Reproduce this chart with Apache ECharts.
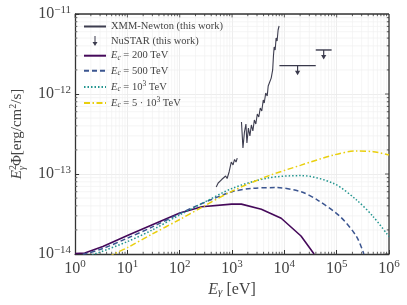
<!DOCTYPE html>
<html><head><meta charset="utf-8">
<script src="https://cdn.jsdelivr.net/npm/echarts@6/dist/echarts.min.js"></script>
<style>html,body{margin:0;padding:0;background:#fff}#c{width:407px;height:305px}</style>
</head><body><div id="c"></div>
<script>
// XMM-Newton spectrum (null = gap)
const xmmEnergy = [498,543,580,633,676,754,805,878,937,966,1045,1116,1192,1256,
  1380,
  1514,1616,1726,1842,1924,2054,2193,2341,2500,2668,2847,3040,3245,3465,3699,3948,4123,4402,4699,4909,5243,5598,5975,6184,6379,6665,6955,7265,7590,7925];
const xmmFlux = [6.88e-14,7.72e-14,7.39e-14,8.53e-14,8.18e-14,9.44e-14,8.79e-14,1.06e-13,1.12e-13,1.41e-13,1.30e-13,1.52e-13,1.41e-13,1.58e-13,
  null,
  4.47e-13,2.11e-13,3.35e-13,4.22e-13,2.44e-13,3.76e-13,2.99e-13,4.10e-13,3.45e-13,4.73e-13,4.22e-13,5.62e-13,5.16e-13,6.68e-13,6.13e-13,8.41e-13,7.72e-13,1.03e-12,9.44e-13,1.26e-12,1.19e-12,1.58e-12,2.0e-12,2.99e-12,3.87e-12,3.55e-12,5.01e-12,4.60e-12,6.31e-12,7.08e-12];
// NuSTAR upper limits
const nustarLo = [8040, 39800];
const nustarHi = [39800, 80000];
const nustarUL = [2.26e-12, 3.55e-12];
// Models
const ec200E = [1, 1.53, 3.39, 10, 30, 100, 265, 980, 1510, 3630, 8700, 20800, 37000];
const ec200F = [1.01e-14, 1.03e-14, 1.24e-14, 1.7e-14, 2.32e-14, 3.25e-14, 3.9e-14, 4.2e-14, 4.2e-14, 3.63e-14, 2.8e-14, 1.68e-14, 1.0e-14];
const ec500E = [1, 1.53, 3.39, 10, 30, 100, 265, 1000, 2340, 7000, 20800, 43000, 117000, 240000, 330000];
const ec500F = [0.92e-14, 1.0e-14, 1.17e-14, 1.58e-14, 2.18e-14, 3.2e-14, 4.27e-14, 6.0e-14, 6.6e-14, 6.76e-14, 6.0e-14, 4.73e-14, 2.93e-14, 1.65e-14, 1.0e-14];
const ec1000E = [1, 2.36, 10, 30, 100, 265, 1000, 4800, 20800, 88000, 240000, 500000, 1000000];
const ec1000F = [0.85e-14, 1.0e-14, 1.43e-14, 2.0e-14, 3.08e-14, 4.27e-14, 6.6e-14, 8.9e-14, 9.55e-14, 7.6e-14, 4.73e-14, 2.93e-14, 1.65e-14];
const ec5000E = [1, 5.6, 10, 30, 100, 265, 1000, 4800, 20800, 88000, 240000, 500000, 1000000];
const ec5000F = [0.55e-14, 1.0e-14, 1.2e-14, 1.78e-14, 2.7e-14, 3.84e-14, 6.1e-14, 9.4e-14, 1.29e-13, 1.73e-13, 1.94e-13, 1.9e-13, 1.73e-13];
const seriesNames = ['XMM-Newton (this work)', 'NuSTAR (this work)', 'Ec200', 'Ec500', 'Ec1000', 'Ec5000'];

const FONT = 'Liberation Serif';
const TXT = '#444';
const AX = '#333';
const zip = (a, b) => a.map((v, i) => [v, b[i] === null ? '-' : b[i]]);

const legendLabels = {
  'XMM-Newton (this work)': '{n|XMM-Newton (this work)}',
  'NuSTAR (this work)': '{n|NuSTAR (this work)}',
  'Ec200': '{i|E}{sb|c}{n| = 200 TeV}',
  'Ec500': '{i|E}{sb|c}{n| = 500 TeV}',
  'Ec1000': '{i|E}{sb|c}{n| = 10}{sp|3}{n| TeV}',
  'Ec5000': '{i|E}{sb|c}{n| = 5 · 10}{sp|3}{n| TeV}'
};

function expLabel(v) {
  const e = Math.round(Math.log10(v));
  return '{b|10}{s|' + (e < 0 ? '\u2212' + (-e) : e) + '}';
}

const chart = echarts.init(document.getElementById('c'), null, {renderer: 'canvas'});
const hideSym = {opacity: 0};
const option = {
  animation: false,
  backgroundColor: '#fff',
  grid: {left: 72, right: 18, top: 14, bottom: 51},
  legend: {
    orient: 'vertical', left: 78, top: 16, itemWidth: 22, itemHeight: 10, itemGap: 3.6,
    itemStyle: hideSym,
    data: [
      {name: seriesNames[0]},
      {name: seriesNames[1], icon: 'path://M2,0 L3,0 L3,6 L5,6 L2.5,10 L0,6 L2,6 Z', itemStyle: {opacity: 1}},
      {name: seriesNames[2]}, {name: seriesNames[3]}, {name: seriesNames[4]}, {name: seriesNames[5]}
    ],
    formatter: n => legendLabels[n],
    textStyle: {
      fontFamily: FONT, color: TXT, fontSize: 10.5,
      rich: {
        n: {fontFamily: FONT, color: TXT, fontSize: 10.5},
        i: {fontFamily: FONT, color: TXT, fontSize: 10.5, fontStyle: 'italic'},
        sb: {fontFamily: FONT, color: TXT, fontSize: 7.5, fontStyle: 'italic', padding: [4, 0, 0, 0]},
        sp: {fontFamily: FONT, color: TXT, fontSize: 7.5, padding: [0, 0, 5, 0]}
      }
    }
  },
  xAxis: {
    type: 'log', logBase: 10, min: 1, max: 1e6,
    name: '{i|E}{sb|γ}{n| [eV]}', nameLocation: 'middle', nameGap: 27,
    nameTextStyle: {
      rich: {
        n: {fontFamily: FONT, color: TXT, fontSize: 16},
        i: {fontFamily: FONT, color: TXT, fontSize: 16, fontStyle: 'italic'},
        sb: {fontFamily: FONT, color: TXT, fontSize: 11, fontStyle: 'italic', padding: [6, 0, 0, 0]}
      }
    },
    axisLine: {show: true, onZero: false, lineStyle: {color: AX, width: 1.3}},
    axisTick: {show: true, inside: true, length: 4, lineStyle: {color: AX, width: 1}},
    splitLine: {show: true, lineStyle: {color: '#e8e8e8', width: 0.8}},
    axisLabel: {
      formatter: expLabel, margin: 5,
      rich: {
        b: {fontFamily: FONT, color: TXT, fontSize: 16},
        s: {fontFamily: FONT, color: TXT, fontSize: 11, padding: [0, 0, 8, 0]}
      }
    }
  },
  yAxis: {
    type: 'log', logBase: 10, min: 1e-14, max: 1e-11,
    name: '{i|E}{sp|2}{sb|γ}{n|Φ[erg/cm}{sp2|2}{n|/s]}', nameLocation: 'middle', nameGap: 48, nameRotate: 90,
    nameTextStyle: {
      rich: {
        n: {fontFamily: FONT, color: TXT, fontSize: 15},
        i: {fontFamily: FONT, color: TXT, fontSize: 15, fontStyle: 'italic'},
        sp: {fontFamily: FONT, color: TXT, fontSize: 10, padding: [0, 0, 9, 0]},
        sp2: {fontFamily: FONT, color: TXT, fontSize: 10, padding: [0, 0, 8, 0]},
        sb: {fontFamily: FONT, color: TXT, fontSize: 10, fontStyle: 'italic', padding: [9, 0, 0, -5]}
      }
    },
    axisLine: {show: true, onZero: false, lineStyle: {color: AX, width: 1.3}},
    axisTick: {show: true, inside: true, length: 4, lineStyle: {color: AX, width: 1}},
    splitLine: {show: true, lineStyle: {color: '#e8e8e8', width: 0.8}},
    axisLabel: {
      formatter: expLabel, margin: 4,
      rich: {
        b: {fontFamily: FONT, color: TXT, fontSize: 16},
        s: {fontFamily: FONT, color: TXT, fontSize: 11, padding: [0, 0, 8, 0]}
      }
    }
  },
  series: [
    {
      type: 'custom', name: 'frame', silent: true, z: 1, clip: false,
      data: [[10, 1e-13]],
      renderItem: function (params, api) {
        const ch = [];
        const bl = api.coord([1, 1e-14]), tr = api.coord([1e6, 1e-11]);
        const grid = '#f0f0f0';
        for (let k = 0; k < 6; k++) {
          for (let m = 1; m <= 9; m++) {
            const v = m * Math.pow(10, k);
            if (v > 1e6) continue;
            const x = api.coord([v, 1e-14])[0];
            if (m > 1) ch.push({type: 'line', shape: {x1: x, y1: bl[1], x2: x, y2: tr[1]}, style: {stroke: grid, lineWidth: 0.7}});
            const L = m === 1 ? 4 : 2.2;
            ch.push({type: 'line', shape: {x1: x, y1: tr[1], x2: x, y2: tr[1] + L}, style: {stroke: AX, lineWidth: 0.8}});
            if (m > 1) ch.push({type: 'line', shape: {x1: x, y1: bl[1], x2: x, y2: bl[1] - L}, style: {stroke: AX, lineWidth: 0.8}});
          }
        }
        for (let k = -14; k < -11; k++) {
          for (let m = 1; m <= 9; m++) {
            const v = m * Math.pow(10, k);
            const y = api.coord([1, v])[1];
            if (m > 1) ch.push({type: 'line', shape: {x1: bl[0], y1: y, x2: tr[0], y2: y}, style: {stroke: grid, lineWidth: 0.7}});
            const L = m === 1 ? 4 : 2.2;
            ch.push({type: 'line', shape: {x1: tr[0], y1: y, x2: tr[0] - L, y2: y}, style: {stroke: AX, lineWidth: 0.8}});
            if (m > 1) ch.push({type: 'line', shape: {x1: bl[0], y1: y, x2: bl[0] + L, y2: y}, style: {stroke: AX, lineWidth: 0.8}});
          }
        }
        ch.push({type: 'line', shape: {x1: bl[0], y1: tr[1], x2: tr[0], y2: tr[1]}, style: {stroke: AX, lineWidth: 1.3}});
        ch.push({type: 'line', shape: {x1: tr[0], y1: tr[1], x2: tr[0], y2: bl[1]}, style: {stroke: AX, lineWidth: 1.3}});
        return {type: 'group', children: ch};
      }
    },
    {
      type: 'line', name: seriesNames[0], data: zip(xmmEnergy, xmmFlux), showSymbol: false, symbol: 'none',
      connectNulls: false, lineStyle: {color: '#3d3d4f', width: 1.1}, itemStyle: {color: '#3d3d4f'}, z: 3
    },
    {
      type: 'custom', name: seriesNames[1], itemStyle: {color: '#3a3a4c'}, z: 3,
      data: nustarLo.map((v, i) => [v, nustarHi[i], nustarUL[i]]),
      encode: {x: [0, 1], y: 2},
      renderItem: function (params, api) {
        const lo = api.value(0), hi = api.value(1), ul = api.value(2);
        const p1 = api.coord([lo, ul]), p2 = api.coord([hi, ul]);
        const pc = api.coord([Math.sqrt(lo * hi), ul]);
        const c = '#3a3a4c';
        return {type: 'group', children: [
          {type: 'line', shape: {x1: p1[0], y1: p1[1], x2: p2[0], y2: p2[1]}, style: {stroke: c, lineWidth: 1.4}},
          {type: 'line', shape: {x1: pc[0], y1: pc[1], x2: pc[0], y2: pc[1] + 6}, style: {stroke: c, lineWidth: 1.2}},
          {type: 'polygon', shape: {points: [[pc[0] - 2.6, pc[1] + 5], [pc[0] + 2.6, pc[1] + 5], [pc[0], pc[1] + 9.5]]}, style: {fill: c}}
        ]};
      }
    },
    {
      type: 'line', name: seriesNames[2], data: zip(ec200E, ec200F), showSymbol: false, symbol: 'none',
      lineStyle: {color: '#45095a', width: 1.6}, itemStyle: {color: '#45095a'}
    },
    {
      type: 'line', name: seriesNames[3], data: zip(ec500E, ec500F), showSymbol: false, symbol: 'none', smooth: 0.3,
      lineStyle: {color: '#3b5590', width: 1.5, type: [5, 3]}, itemStyle: {color: '#3b5590'}
    },
    {
      type: 'line', name: seriesNames[4], data: zip(ec1000E, ec1000F), showSymbol: false, symbol: 'none', smooth: 0.3,
      lineStyle: {color: '#22958f', width: 1.5, type: [1.5, 2]}, itemStyle: {color: '#22958f'}
    },
    {
      type: 'line', name: seriesNames[5], data: zip(ec5000E, ec5000F), showSymbol: false, symbol: 'none', smooth: 0.3,
      lineStyle: {color: '#e9cf0e', width: 1.5, type: [6, 2.5, 1.5, 2.5]}, itemStyle: {color: '#e9cf0e'}
    }
  ]
};
chart.setOption(option);
</script></body></html>
